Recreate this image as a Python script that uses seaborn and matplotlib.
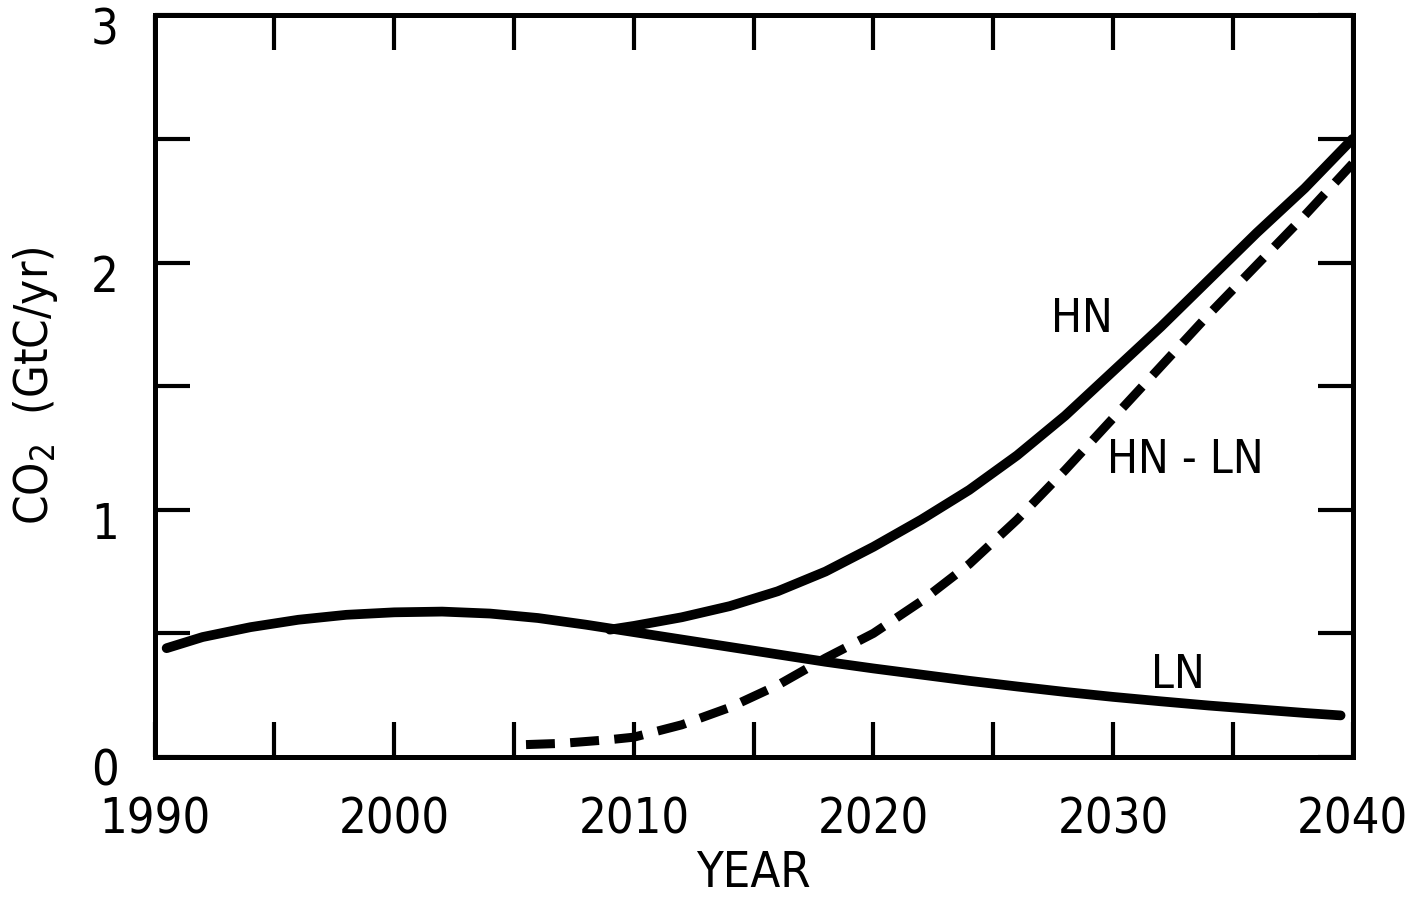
import matplotlib
matplotlib.use("Agg")
import matplotlib.pyplot as plt
import matplotlib.transforms as mtransforms
import seaborn as sns
import pandas as pd

# ---- data ----
ln_years = [1990.5, 1992, 1994, 1996, 1998, 2000, 2002, 2004, 2006, 2008, 2010, 2012,
            2014, 2016, 2018, 2020, 2022, 2024, 2026, 2028, 2030, 2032, 2034, 2036, 2038, 2039.5]
ln_values = [0.44, 0.485, 0.525, 0.555, 0.575, 0.585, 0.588, 0.58, 0.562, 0.535, 0.505, 0.475,
             0.445, 0.415, 0.385, 0.358, 0.333, 0.308, 0.285, 0.263, 0.243, 0.225, 0.208, 0.193, 0.178, 0.168]

hn_years = [2009, 2010, 2012, 2014, 2016, 2018, 2020, 2022, 2024, 2026, 2028, 2030,
            2032, 2034, 2036, 2038, 2040]
hn_values = [0.515, 0.53, 0.565, 0.61, 0.67, 0.75, 0.85, 0.96, 1.08, 1.22, 1.38, 1.56,
             1.74, 1.93, 2.12, 2.30, 2.50]

diff_years = [2005.5, 2007, 2009, 2010, 2012, 2014, 2016, 2018, 2020, 2022, 2024, 2026,
              2028, 2030, 2032, 2034, 2036, 2038, 2040]
diff_values = [0.05, 0.055, 0.07, 0.08, 0.13, 0.20, 0.29, 0.40, 0.50, 0.63, 0.78, 0.96,
               1.16, 1.37, 1.58, 1.79, 1.99, 2.19, 2.40]

x_ticks = [1990, 1995, 2000, 2005, 2010, 2015, 2020, 2025, 2030, 2035, 2040]
x_labels = ["1990", "", "2000", "", "2010", "", "2020", "", "2030", "", "2040"]
y_ticks = [0, 0.5, 1, 1.5, 2, 2.5, 3]
y_labels = ["0", "", "1", "", "2", "", "3"]

labels = ["HN", "HN - LN", "LN"]
label_pos_x = [2028.7, 2033.0, 2032.7]
label_pos_y = [1.77, 1.20, 0.33]

# ---- style ----
sns.set_style("ticks")
plt.rcParams["font.family"] = ["DejaVu Sans", "Liberation Sans"]
plt.rcParams["font.stretch"] = "condensed"
plt.rcParams["text.color"] = "black"
plt.rcParams["axes.labelcolor"] = "black"
plt.rcParams["xtick.color"] = "black"
plt.rcParams["ytick.color"] = "black"

fig = plt.figure(figsize=(14.06, 8.99), dpi=100)
ax = fig.add_axes([0.110, 0.158, 0.852, 0.825])

ln_df = pd.DataFrame({"year": ln_years, "co2": ln_values})
hn_df = pd.DataFrame({"year": hn_years, "co2": hn_values})
df_df = pd.DataFrame({"year": diff_years, "co2": diff_values})

sns.lineplot(data=ln_df, x="year", y="co2", ax=ax, color="black", lw=7, sort=True)
sns.lineplot(data=hn_df, x="year", y="co2", ax=ax, color="black", lw=7, sort=True)
sns.lineplot(data=df_df, x="year", y="co2", ax=ax, color="black", lw=6.5, sort=True)
ax.lines[-1].set_dashes([3.2, 1.7])
ax.lines[-1].set_dash_capstyle("butt")

ax.set_xlim(1990, 2040)
ax.set_ylim(0, 3)
ax.set_xticks(x_ticks)
ax.set_xticklabels(x_labels)
ax.set_yticks(y_ticks)
ax.set_yticklabels(y_labels)

ax.tick_params(axis="both", which="major", direction="in", length=25, width=3,
               top=True, right=True, labelsize=35, color="black", labelcolor="black")
ax.tick_params(axis="x", pad=28)
ax.tick_params(axis="y", pad=26)
for s in ax.spines.values():
    s.set_linewidth(3.6)
    s.set_color("black")

# y tick labels sit slightly below their ticks in the reference
offset = mtransforms.ScaledTranslation(0, -10 / 100, fig.dpi_scale_trans)
for lab in ax.get_yticklabels():
    lab.set_transform(lab.get_transform() + offset)

ax.set_xlabel("YEAR", fontsize=35, labelpad=4)
ax.set_ylabel("CO$_2$  (GtC/yr)", fontsize=34, labelpad=22)

for t, xx, yy in zip(labels, label_pos_x, label_pos_y):
    ax.text(xx, yy, t, fontsize=33, ha="center", va="center")

fig.savefig("out.png", dpi=100)
